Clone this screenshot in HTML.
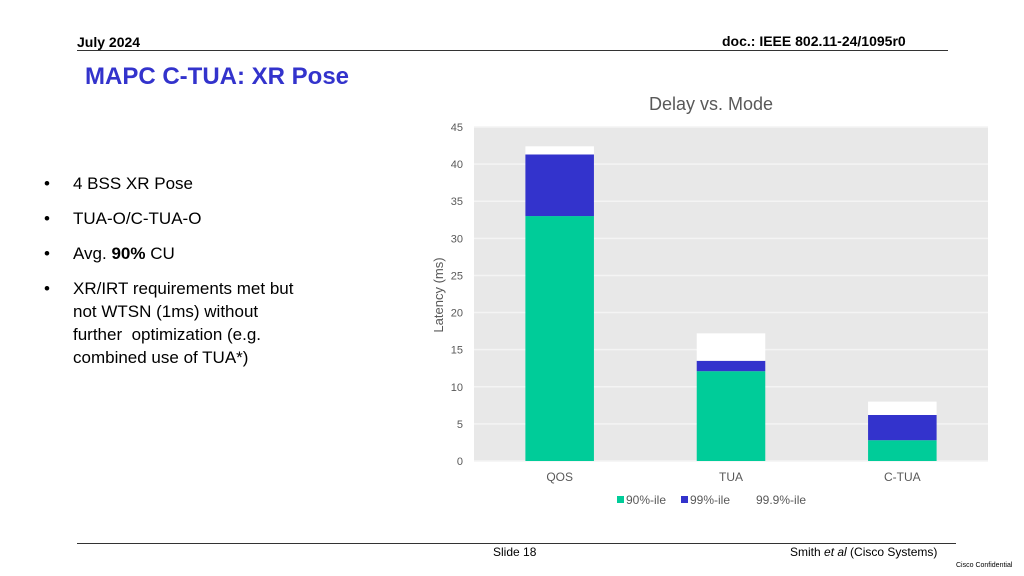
<!DOCTYPE html>
<html><head><meta charset="utf-8"><style>
body{margin:0;width:1024px;height:576px;background:#fff;position:relative;overflow:hidden;font-family:"Liberation Sans",sans-serif}
.a{position:absolute;white-space:nowrap}
</style></head><body>
<div class="a" style="left:77px;top:34px;font-size:14px;font-weight:bold">July 2024</div>
<div class="a" style="left:722px;top:33px;font-size:14px;font-weight:bold">doc.: IEEE 802.11-24/1095r0</div>
<div class="a" style="left:77px;top:50px;width:871px;height:1px;background:#333"></div>
<div class="a" style="left:85px;top:63px;font-size:24px;font-weight:bold;color:#3333cc">MAPC C-TUA: XR Pose</div>
<div class="a" style="left:44px;top:172px;font-size:17px;line-height:23px;color:#000">
<div style="position:absolute;top:0"><span style="position:absolute;left:0">•</span><span style="position:absolute;left:29px">4 BSS XR Pose</span></div>
<div style="position:absolute;top:35px"><span style="position:absolute;left:0">•</span><span style="position:absolute;left:29px">TUA-O/C-TUA-O</span></div>
<div style="position:absolute;top:70px"><span style="position:absolute;left:0">•</span><span style="position:absolute;left:29px">Avg. <b>90%</b> CU</span></div>
<div style="position:absolute;top:105px"><span style="position:absolute;left:0">•</span><span style="position:absolute;left:29px">XR/IRT requirements met but<br>not WTSN (1ms) without<br>further&nbsp; optimization (e.g.<br>combined use of TUA*)</span></div>
</div>
<svg class="a" style="left:0;top:0" width="1024" height="576" id="chart"></svg>
<div class="a" style="left:77px;top:543px;width:879px;height:1px;background:#333"></div>
<div class="a" style="left:493px;top:545px;font-size:12px">Slide 18</div>
<div class="a" style="left:790px;top:545px;font-size:12px">Smith <i>et al</i> (Cisco Systems)</div>
<div class="a" style="left:956px;top:562px;font-size:7px">Cisco Confidential</div>
<script>
const categories=["QOS","TUA","C-TUA"];
const p90=[33.0,12.1,2.8];
const p99=[41.3,13.5,6.2];
const p999=[42.4,17.2,8.0];
const ticks=[0,5,10,15,20,25,30,35,40,45];
const seriesNames=["90%-ile","99%-ile","99.9%-ile"];
const colors=["#00cc99","#3333cc","#ffffff"];
const NS="http://www.w3.org/2000/svg";
const svg=document.getElementById('chart');
const X0=474,X1=988,Y0=461,Y1=127,YMAX=45;
const y=v=>Y0-(v/YMAX)*(Y0-Y1);
const cw=(X1-X0)/categories.length;
const xc=i=>X0+cw*(i+0.5);
function mk(t,a){const e=document.createElementNS(NS,t);for(const k in a)e.setAttribute(k,a[k]);svg.appendChild(e);return e;}
let e=mk('rect',{x:X0,y:Y1,width:X1-X0,height:Y0-Y1,fill:'#e8e8e8'});


ticks.forEach(t=>{
 let l=mk('line',{x1:X0,x2:X1,y1:y(t),y2:y(t),stroke:'#f4f4f4','stroke-width':1.5});
 
 
 let tx=mk('text',{x:463,y:y(t)+4,'text-anchor':'end','font-size':11,fill:'#595959','font-family':'Liberation Sans'});
 tx.textContent=t;
 
 
});
const bw=cw*0.4;
categories.forEach((c,i)=>{
 const segs=[[0,p90[i]],[p90[i],p99[i]],[p99[i],p999[i]]];
 segs.forEach((s,k)=>{
  let r=mk('rect',{x:xc(i)-bw/2,y:y(s[1]),width:bw,height:y(s[0])-y(s[1]),fill:colors[k]});
  
  
 });
 let tx=mk('text',{x:xc(i),y:481,'text-anchor':'middle','font-size':12,fill:'#595959','font-family':'Liberation Sans'});
 tx.textContent=c;
 
 
});
let t=mk('text',{x:711,y:110,'text-anchor':'middle','font-size':18,fill:'#595959','font-family':'Liberation Sans'});
t.textContent="Delay vs. Mode";


let yt=mk('text',{x:0,y:0,'text-anchor':'middle','font-size':13,fill:'#595959','font-family':'Liberation Sans',transform:'translate(443,295) rotate(-90)'});
yt.textContent="Latency (ms)";


const lx=[617,681,747];
seriesNames.forEach((n,k)=>{
 let r=mk('rect',{x:lx[k],y:496,width:7,height:7,fill:colors[k]});
 
 
 let tx=mk('text',{x:lx[k]+9,y:504,'font-size':12,fill:'#595959','font-family':'Liberation Sans'});
 tx.textContent=n;
 
 
});
</script>
</body></html>
